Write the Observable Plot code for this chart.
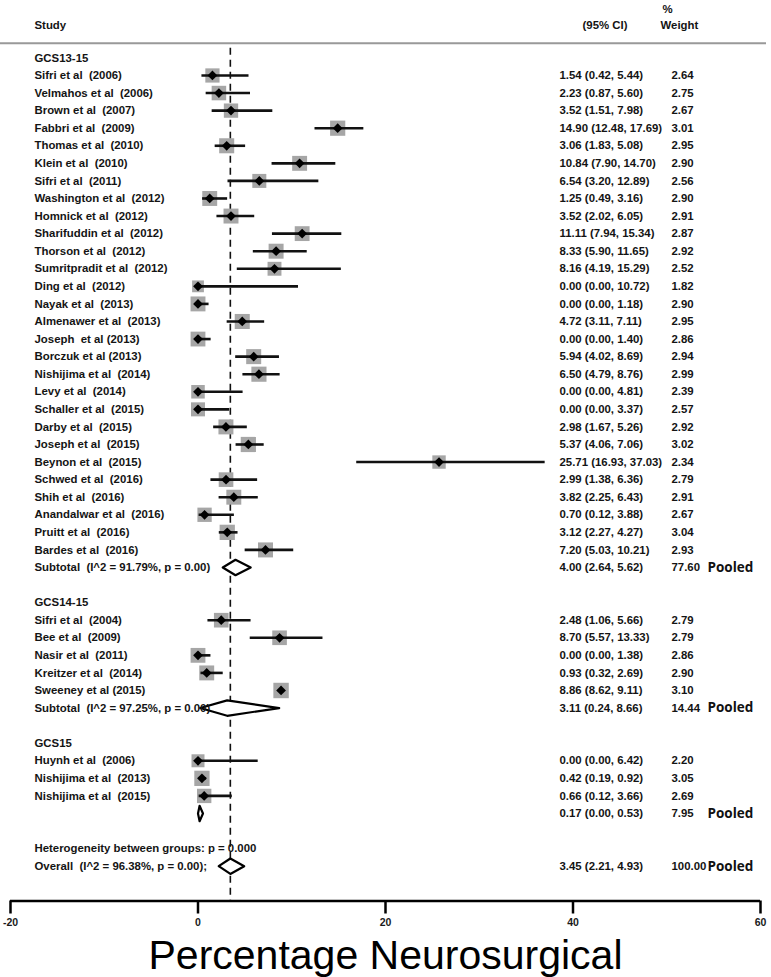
<!DOCTYPE html>
<html>
<head>
<meta charset="utf-8">
<script src="https://cdn.jsdelivr.net/npm/d3@7"></script>
<script src="https://cdn.jsdelivr.net/npm/@observablehq/plot@0.6"></script>
<style>
  html, body { margin: 0; padding: 0; background: #fff; }
  #chart svg { display: block; }
</style>
</head>
<body>
<div id="chart"></div>
<script>
// ---------- data ----------
const groups = ["GCS13-15", "GCS14-15", "GCS15"];

const studyNames = [
  "Sifri et al  (2006)", "Velmahos et al  (2006)", "Brown et al  (2007)", "Fabbri et al  (2009)",
  "Thomas et al  (2010)", "Klein et al  (2010)", "Sifri et al  (2011)", "Washington et al  (2012)",
  "Homnick et al  (2012)", "Sharifuddin et al  (2012)", "Thorson et al  (2012)", "Sumritpradit et al  (2012)",
  "Ding et al  (2012)", "Nayak et al  (2013)", "Almenawer et al  (2013)", "Joseph  et al (2013)",
  "Borczuk et al (2013)", "Nishijima et al  (2014)", "Levy et al  (2014)", "Schaller et al  (2015)",
  "Darby et al  (2015)", "Joseph et al  (2015)", "Beynon et al  (2015)", "Schwed et al  (2016)",
  "Shih et al  (2016)", "Anandalwar et al  (2016)", "Pruitt et al  (2016)", "Bardes et al  (2016)",
  "Sifri et al  (2004)", "Bee et al  (2009)", "Nasir et al  (2011)", "Kreitzer et al  (2014)",
  "Sweeney et al (2015)",
  "Huynh et al  (2006)", "Nishijima et al  (2013)", "Nishijima et al  (2015)"
];
const studyGroup = [
  0,0,0,0,0,0,0,0,0,0,0,0,0,0,0,0,0,0,0,0,0,0,0,0,0,0,0,0,
  1,1,1,1,1,
  2,2,2
];
const studyEst = [
  1.54, 2.23, 3.52, 14.90, 3.06, 10.84, 6.54, 1.25, 3.52, 11.11, 8.33, 8.16, 0.00, 0.00,
  4.72, 0.00, 5.94, 6.50, 0.00, 0.00, 2.98, 5.37, 25.71, 2.99, 3.82, 0.70, 3.12, 7.20,
  2.48, 8.70, 0.00, 0.93, 8.86,
  0.00, 0.42, 0.66
];
const studyLo = [
  0.42, 0.87, 1.51, 12.48, 1.83, 7.90, 3.20, 0.49, 2.02, 7.94, 5.90, 4.19, 0.00, 0.00,
  3.11, 0.00, 4.02, 4.79, 0.00, 0.00, 1.67, 4.06, 16.93, 1.38, 2.25, 0.12, 2.27, 5.03,
  1.06, 5.57, 0.00, 0.32, 8.62,
  0.00, 0.19, 0.12
];
const studyHi = [
  5.44, 5.60, 7.98, 17.69, 5.08, 14.70, 12.89, 3.16, 6.05, 15.34, 11.65, 15.29, 10.72, 1.18,
  7.11, 1.40, 8.69, 8.76, 4.81, 3.37, 5.26, 7.06, 37.03, 6.36, 6.43, 3.88, 4.27, 10.21,
  5.66, 13.33, 1.38, 2.69, 9.11,
  6.42, 0.92, 3.66
];
const studyWeight = [
  2.64, 2.75, 2.67, 3.01, 2.95, 2.90, 2.56, 2.90, 2.91, 2.87, 2.92, 2.52, 1.82, 2.90,
  2.95, 2.86, 2.94, 2.99, 2.39, 2.57, 2.92, 3.02, 2.34, 2.79, 2.91, 2.67, 3.04, 2.93,
  2.79, 2.79, 2.86, 2.90, 3.10,
  2.20, 3.05, 2.69
];

const subtotalLabels = ["Subtotal  (I^2 = 91.79%, p = 0.00)", "Subtotal  (I^2 = 97.25%, p = 0.00)", ""];
const subEst = [4.00, 3.11, 0.17];
const subLo = [2.64, 0.24, 0.00];
const subHi = [5.62, 8.66, 0.53];
const subWeight = [77.60, 14.44, 7.95];

const heterogeneityLabel = "Heterogeneity between groups: p = 0.000";
const overallLabel = "Overall  (I^2 = 96.38%, p = 0.00);";
const overallEst = 3.45, overallLo = 2.21, overallHi = 4.93, overallWeight = 100.00;

const headerStudy = "Study";
const headerCI = "(95% CI)";
const headerPct = "%";
const headerWeight = "Weight";
const pooledWord = "Pooled";
const xTicks = [-20, 0, 20, 40, 60];
const xTitle = "Percentage Neurosurgical";

// ---------- build table rows ----------
const rows = [];
let r = 0;
groups.forEach((g, gi) => {
  rows.push({row: r++, kind: "header", label: g});
  studyNames.forEach((n, si) => {
    if (studyGroup[si] !== gi) return;
    rows.push({row: r++, kind: "study", label: n, est: studyEst[si], lo: studyLo[si], hi: studyHi[si], w: studyWeight[si]});
  });
  rows.push({row: r++, kind: "pooled", label: subtotalLabels[gi], est: subEst[gi], lo: subLo[gi], hi: subHi[gi], w: subWeight[gi]});
  r++; // blank row
});
rows.push({row: r++, kind: "note", label: heterogeneityLabel});
rows.push({row: r++, kind: "pooled", label: overallLabel, est: overallEst, lo: overallLo, hi: overallHi, w: overallWeight});

const studies = rows.filter(d => d.kind === "study");
const pooled = rows.filter(d => d.kind === "pooled");
const valued = rows.filter(d => d.est !== undefined);
const fmt = v => v.toFixed(2);
const diamondPts = pooled.flatMap((d, k) => [
  {k, x: d.lo, y: d.row}, {k, x: d.est, y: d.row - 0.44}, {k, x: d.hi, y: d.row},
  {k, x: d.est, y: d.row + 0.44}, {k, x: d.lo, y: d.row}
]);

// ---------- layout ----------
const W = 771, H = 977;
const Y_TOP = -3.267, Y_AXIS = 47.98;
const sans = "'Liberation Sans', Arial, sans-serif";
const tf = {fontFamily: sans, fontSize: 11.4, fontWeight: "bold", fill: "#141414", frameAnchor: "left", textAnchor: "start"};

const chart = Plot.plot({
  width: W, height: H,
  marginLeft: 10, marginRight: 11, marginTop: 0, marginBottom: H - 900.5,
  x: {domain: [-20, 60]},
  y: {domain: [Y_TOP, Y_AXIS], reverse: true, axis: null},
  r: {domain: [0, 3.1], range: [0, 8.7]},
  style: {background: "#fff"},
  marks: [
    // header
    Plot.text([headerStudy], {...tf, y: () => -1.844, dx: 24}),
    Plot.text([headerCI], {...tf, y: () => -1.844, dx: 572}),
    Plot.text([headerPct], {...tf, y: () => -2.75, dx: 652}),
    Plot.text([headerWeight], {...tf, y: () => -1.844, dx: 650}),
    Plot.ruleY([-0.837], {stroke: "#999", strokeWidth: 2, insetLeft: -10, insetRight: -6}),
    // reference line at overall estimate
    Plot.ruleX([overallEst], {y1: -0.55, y2: Y_AXIS, stroke: "#111", strokeWidth: 1.6, strokeDasharray: "7,5"}),
    // weight boxes
    Plot.dot(studies, {x: "est", y: "row", r: "w", symbol: "square", fill: "#a6a6a6", stroke: "none"}),
    // CIs
    Plot.ruleY(studies, {y: "row", x1: "lo", x2: "hi", stroke: "#111", strokeWidth: 2.6}),
    // point estimates
    Plot.dot(studies, {x: "est", y: "row", symbol: "diamond2", r: 4.4, fill: "#000", stroke: "none"}),
    // pooled diamonds
    Plot.line(diamondPts, {x: "x", y: "y", z: "k", stroke: "#000", strokeWidth: 2.2, fill: "#fff", curve: "linear"}),
    // left labels
    Plot.text(rows.filter(d => d.label), {...tf, y: "row", text: "label", dx: 24}),
    // estimates column
    Plot.text(valued, {...tf, y: "row", text: d => `${fmt(d.est)} (${fmt(d.lo)}, ${fmt(d.hi)})`, dx: 549}),
    Plot.text(valued, {...tf, y: "row", text: d => fmt(d.w), dx: 661}),
    Plot.text(pooled, {y: "row", text: () => pooledWord, frameAnchor: "left", textAnchor: "start", dx: 697,
      fontFamily: "'Open Sans', 'Liberation Sans', sans-serif", fontWeight: "bold", fontSize: 13.5, fill: "#111"}),
    // axis
    Plot.ruleY([Y_AXIS], {stroke: "#000", strokeWidth: 2.5}),
    Plot.axisX({ticks: xTicks, tickFormat: d => String(d), tickSize: 13, tickPadding: 5, strokeWidth: 2.5,
      fontFamily: sans, fontSize: 10.5, fontWeight: "bold", fill: "#1a1a1a", label: null}),
    Plot.text([xTitle], {frameAnchor: "bottom", lineAnchor: "middle", dy: 55, fontSize: 41, fontFamily: sans, fill: "#000"})
  ]
});
document.getElementById("chart").appendChild(chart);
</script>
</body>
</html>
